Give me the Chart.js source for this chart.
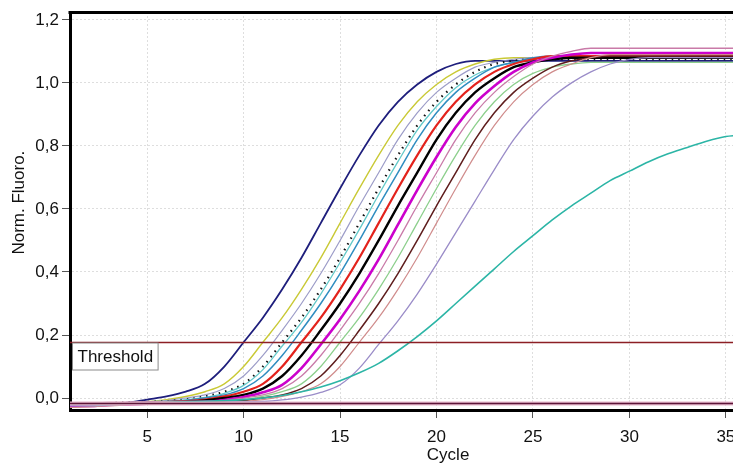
<!DOCTYPE html>
<html>
<head>
<meta charset="utf-8">
<script src="https://cdn.jsdelivr.net/npm/chart.js@4/dist/chart.umd.min.js"></script>
<style>
  html, body { margin:0; padding:0; background:#fff; }
  #wrap { width:733px; height:465px; position:relative; }
</style>
</head>
<body>
<div id="wrap"><canvas id="chart"></canvas></div>
<script>
// ── amplification curves, normalised fluorescence per cycle ────────────────
const CYCLES = [1,2,3,4,5,6,7,8,9,10,11,12,13,14,15,16,17,18,19,20,21,22,23,24,25,26,27,28,29,30,31,32,33,34,35,36];

const NAVY     = [-0.02,-0.02,-0.018,-0.015,-0.005,0.005,0.02,0.045,0.10,0.177,0.255,0.345,0.445,0.555,0.665,0.77,0.865,0.94,0.995,1.035,1.06,1.07,1.07,1.07,1.07,1.07,1.07,1.07,1.07,1.07,1.07,1.07,1.07,1.07,1.07,1.07];
const YELLOW   = [-0.02,-0.02,-0.018,-0.015,-0.012,-0.005,0.005,0.02,0.045,0.10,0.177,0.255,0.345,0.445,0.555,0.665,0.77,0.865,0.94,0.995,1.035,1.06,1.075,1.08,1.08,1.08,1.08,1.08,1.08,1.08,1.08,1.08,1.08,1.08,1.08,1.08];
const LAVGRAY  = [-0.022,-0.02,-0.02,-0.016,-0.012,-0.008,0.0,0.01,0.03,0.07,0.135,0.215,0.30,0.395,0.50,0.61,0.715,0.82,0.905,0.97,1.015,1.05,1.065,1.075,1.08,1.08,1.08,1.08,1.08,1.08,1.08,1.08,1.08,1.08,1.08,1.08];
const DOTTED   = [-0.018,-0.018,-0.016,-0.014,-0.012,-0.01,-0.005,0.005,0.02,0.045,0.10,0.177,0.255,0.345,0.445,0.555,0.665,0.77,0.865,0.94,0.995,1.035,1.06,1.07,1.075,1.075,1.075,1.075,1.075,1.075,1.075,1.075,1.075,1.075,1.075,1.075];
const LTEAL    = [-0.025,-0.022,-0.02,-0.016,-0.012,-0.01,-0.006,0.002,0.015,0.04,0.09,0.165,0.24,0.33,0.43,0.535,0.645,0.75,0.85,0.925,0.985,1.025,1.05,1.065,1.075,1.08,1.08,1.08,1.08,1.08,1.08,1.08,1.08,1.08,1.08,1.08];
const STEEL    = [-0.02,-0.02,-0.018,-0.016,-0.014,-0.012,-0.008,0.0,0.01,0.03,0.07,0.135,0.215,0.30,0.395,0.50,0.61,0.715,0.82,0.905,0.97,1.015,1.05,1.065,1.08,1.085,1.085,1.085,1.085,1.085,1.085,1.085,1.085,1.085,1.085,1.085];
const RED      = [-0.02,-0.022,-0.02,-0.018,-0.015,-0.013,-0.01,-0.005,0.005,0.02,0.045,0.10,0.177,0.255,0.345,0.445,0.555,0.665,0.77,0.865,0.94,0.995,1.035,1.06,1.075,1.085,1.085,1.085,1.085,1.085,1.085,1.085,1.085,1.085,1.085,1.085];
const BLACK    = [-0.02,-0.02,-0.02,-0.018,-0.015,-0.013,-0.012,-0.008,0.0,0.01,0.03,0.07,0.135,0.215,0.30,0.395,0.50,0.61,0.715,0.82,0.905,0.97,1.015,1.05,1.065,1.075,1.08,1.08,1.08,1.08,1.08,1.08,1.08,1.08,1.08,1.08];
const MAGENTA  = [-0.025,-0.025,-0.022,-0.02,-0.018,-0.016,-0.014,-0.012,-0.006,0.003,0.018,0.042,0.095,0.17,0.25,0.34,0.44,0.55,0.66,0.765,0.86,0.935,0.99,1.035,1.065,1.08,1.09,1.095,1.095,1.095,1.095,1.095,1.095,1.095,1.095,1.095];
const MAUVE    = [-0.015,-0.015,-0.014,-0.013,-0.012,-0.011,-0.01,-0.01,-0.008,0.0,0.01,0.03,0.07,0.135,0.215,0.30,0.395,0.50,0.61,0.715,0.82,0.905,0.97,1.02,1.06,1.085,1.10,1.11,1.11,1.11,1.11,1.11,1.11,1.11,1.11,1.11];
const LGREEN   = [-0.02,-0.02,-0.018,-0.016,-0.015,-0.014,-0.013,-0.012,-0.01,-0.005,0.005,0.02,0.045,0.10,0.177,0.255,0.345,0.445,0.555,0.665,0.77,0.865,0.94,0.995,1.03,1.05,1.06,1.065,1.065,1.065,1.065,1.065,1.065,1.065,1.065,1.065];
const BROWN    = [-0.02,-0.02,-0.02,-0.018,-0.016,-0.015,-0.014,-0.013,-0.012,-0.008,0.0,0.01,0.03,0.07,0.135,0.215,0.30,0.395,0.50,0.61,0.715,0.82,0.905,0.97,1.015,1.05,1.07,1.08,1.085,1.085,1.085,1.085,1.085,1.085,1.085,1.085];
const ROSE     = [-0.03,-0.028,-0.025,-0.022,-0.02,-0.018,-0.016,-0.015,-0.013,-0.011,-0.005,0.005,0.02,0.045,0.10,0.177,0.255,0.345,0.445,0.555,0.665,0.77,0.865,0.94,0.995,1.035,1.06,1.08,1.09,1.09,1.09,1.09,1.09,1.09,1.09,1.09];
const LAVENDER = [-0.025,-0.025,-0.022,-0.02,-0.018,-0.016,-0.015,-0.014,-0.013,-0.012,-0.011,-0.006,0.003,0.018,0.042,0.095,0.17,0.245,0.33,0.425,0.525,0.625,0.725,0.82,0.895,0.955,1.0,1.035,1.06,1.075,1.08,1.08,1.08,1.08,1.08,1.08];
const TEAL     = [-0.02,-0.02,-0.02,-0.018,-0.016,-0.014,-0.012,-0.01,-0.008,-0.005,0.0,0.008,0.02,0.035,0.055,0.08,0.11,0.15,0.195,0.245,0.30,0.355,0.41,0.465,0.515,0.565,0.61,0.65,0.69,0.72,0.75,0.775,0.795,0.815,0.83,0.835];

const THRESHOLD = 0.177;
const LOWER_LINE = -0.016;
const X_TICKS = [5,10,15,20,25,30,35];
const Y_TICKS = [0,0.2,0.4,0.6,0.8,1.0,1.2];

// drawing style per curve (kept apart from the values)
const CURVES = [
  { data: TEAL,     color:"#2cb5a6", width:1.6 },
  { data: LAVENDER, color:"#9a8cc8", width:1.3 },
  { data: ROSE,     color:"#d08c8c", width:1.2 },
  { data: BROWN,    color:"#5e1c1c", width:1.5 },
  { data: LGREEN,   color:"#8ccf8c", width:1.3 },
  { data: MAUVE,    color:"#c97aa8", width:1.3 },
  { data: MAGENTA,  color:"#cc00cc", width:2.6 },
  { data: BLACK,    color:"#000000", width:2.4 },
  { data: RED,      color:"#e3221c", width:2.2 },
  { data: STEEL,    color:"#2f8dc0", width:1.5 },
  { data: LTEAL,    color:"#62c9c9", width:1.3 },
  { data: DOTTED,   color:"#111111", width:2.2, dash:[1.5,5] },
  { data: LAVGRAY,  color:"#9c9cc8", width:1.2 },
  { data: YELLOW,   color:"#c9c935", width:1.4 },
  { data: NAVY,     color:"#1e1e7c", width:1.8 },
];

const FONT = 'Arial, "Liberation Sans", sans-serif';
const TEXT = "#111";
const fmt = v => v.toFixed(1).replace(".", ",");

const decor = {
  id: "decor",
  afterDatasetsDraw(chart){
    const { ctx, chartArea:a, scales:{ x, y } } = chart;
    ctx.save();
    // lower reference line
    const yl = Math.round(y.getPixelForValue(LOWER_LINE)) + 0.5;
    ctx.strokeStyle = "#e6b8cc"; ctx.lineWidth = 4;
    ctx.beginPath(); ctx.moveTo(a.left, yl); ctx.lineTo(a.right, yl); ctx.stroke();
    ctx.strokeStyle = "#5c1538"; ctx.lineWidth = 1.6;
    ctx.beginPath(); ctx.moveTo(a.left, yl); ctx.lineTo(a.right, yl); ctx.stroke();
    // threshold
    const yt = Math.round(y.getPixelForValue(THRESHOLD)) + 0.5;
    ctx.strokeStyle = "#8c1f24"; ctx.lineWidth = 1.6;
    ctx.beginPath(); ctx.moveTo(a.left, yt); ctx.lineTo(a.right, yt); ctx.stroke();
    // top frame
    ctx.strokeStyle = "#000"; ctx.lineWidth = 3;
    ctx.beginPath(); ctx.moveTo(a.left - 1.5, a.top + 0.5); ctx.lineTo(a.right, a.top + 0.5); ctx.stroke();
    // threshold label
    ctx.font = "17px " + FONT;
    const tw = ctx.measureText("Threshold").width;
    const bx = a.left + 2.5, by = yt + 0.5;
    ctx.fillStyle = "#fff"; ctx.fillRect(bx, by, tw + 10, 27);
    ctx.strokeStyle = "#8a8a8a"; ctx.lineWidth = 1;
    ctx.strokeRect(bx, by, tw + 10, 27);
    ctx.fillStyle = TEXT; ctx.textBaseline = "middle"; ctx.textAlign = "left";
    ctx.fillText("Threshold", bx + 5, by + 14);
    // axis titles
    ctx.textAlign = "center"; ctx.textBaseline = "alphabetic";
    ctx.fillText("Cycle", x.getPixelForValue(20.6), 460);
    ctx.translate(24, y.getPixelForValue(0.62));
    ctx.rotate(-Math.PI / 2);
    ctx.fillText("Norm. Fluoro.", 0, 0);
    ctx.restore();
  }
};

new Chart(document.getElementById("chart"), {
  type: "line",
  data: {
    datasets: CURVES.map(c => ({
      data: CYCLES.map((cy, i) => ({ x: cy, y: c.data[i] })),
      borderColor: c.color,
      borderWidth: c.width,
      borderDash: c.dash || [],
      pointRadius: 0,
      fill: false,
      cubicInterpolationMode: "monotone",
    })),
  },
  options: {
    responsive: true, maintainAspectRatio: false, animation: false,
    layout: { padding: { top: 12, right: 0, left: 0, bottom: 0 } },
    plugins: { legend: { display:false }, tooltip: { enabled:false } },
    scales: {
      x: {
        type: "linear", min: 1, max: 35.37,
        afterBuildTicks: s => { s.ticks = X_TICKS.map(v => ({ value: v })); },
        afterFit: s => { s.height = 55; s.paddingLeft = 0; s.paddingRight = 0; },
        ticks: { color: TEXT, padding: 9, maxRotation: 0, autoSkip: false, font:{ family: FONT, size: 17 } },
        grid: { color:"#dedede", tickColor:"#555", tickLength: 8, tickBorderDash: [], tickWidth: 1 },
        border: { color:"#000", width: 3, dash:[2,2] },
      },
      y: {
        min: -0.038, max: 1.225,
        afterBuildTicks: s => { s.ticks = Y_TICKS.map(v => ({ value: v })); },
        afterFit: s => { s.width = 70; s.paddingTop = 0; s.paddingBottom = 0; },
        ticks: { color: TEXT, padding: 3, callback: v => fmt(v), font:{ family: FONT, size: 17 } },
        grid: { color:"#dedede", tickColor:"#555", tickLength: 8, tickBorderDash: [], tickWidth: 1 },
        border: { color:"#000", width: 3, dash:[2,2] },
      },
    },
  },
  plugins: [decor],
});
</script>
</body>
</html>
